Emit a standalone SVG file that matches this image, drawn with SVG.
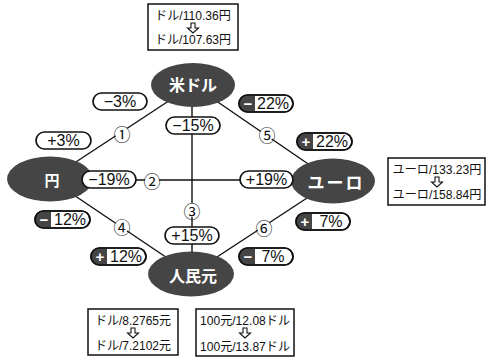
<svg xmlns="http://www.w3.org/2000/svg" width="487" height="361" viewBox="0 0 487 361">
<style>
.bg{fill:#ffffff}
.conn{stroke:#111;stroke-width:1.4;fill:none}
.node{fill:#454545}
.ntext{fill:#fff;font-family:"Noto Sans CJK JP",sans-serif;font-weight:bold;text-anchor:middle;dominant-baseline:central}
.pill{fill:#fff;stroke:#111;stroke-width:1.7}
.pout{fill:none;stroke:#111;stroke-width:1.7}
.dark{fill:#454545}
.ptext{fill:#111;font-family:"Liberation Sans",Arial,sans-serif;font-size:16px;text-anchor:middle;dominant-baseline:central}
.sign{fill:#fff;font-family:"Liberation Sans",Arial,sans-serif;font-size:15px;font-weight:bold;text-anchor:middle;dominant-baseline:central}
.box{fill:#fff;stroke:#111;stroke-width:1.5}
.btext{fill:#111;font-family:"Liberation Sans","Noto Sans CJK JP",sans-serif;font-size:12.5px;text-anchor:middle;dominant-baseline:central}
.arrow{fill:#fff;stroke:#111;stroke-width:1.1;stroke-linejoin:miter}
.numbg{fill:#fff}
.num{fill:#111;font-family:"Noto Sans CJK JP",sans-serif;font-size:17px;text-anchor:middle;dominant-baseline:central}
</style>
<rect class="bg" x="0" y="0" width="487" height="361"/>

<g id="connectors">
  <line class="conn" x1="193" y1="85" x2="50" y2="179"/>
  <line class="conn" x1="193" y1="85" x2="333" y2="181"/>
  <line class="conn" x1="50" y1="179" x2="191" y2="274"/>
  <line class="conn" x1="333" y1="181" x2="191" y2="274"/>
  <line class="conn" x1="50" y1="180" x2="333" y2="180"/>
  <line class="conn" x1="192" y1="85" x2="192" y2="274"/>
</g>

<g id="node-usd">
  <ellipse class="node" cx="193" cy="85" rx="42" ry="22"/>
  <text class="ntext" x="193" y="84" font-size="16">米ドル</text>
</g>
<g id="node-jpy">
  <ellipse class="node" cx="50" cy="179" rx="43" ry="22.5"/>
  <text class="ntext" x="52" y="179" font-size="15">円</text>
</g>
<g id="node-eur">
  <ellipse class="node" cx="333" cy="181" rx="42" ry="22.5"/>
  <text class="ntext" x="336" y="181" font-size="17" letter-spacing="2">ユーロ</text>
</g>
<g id="node-cny">
  <ellipse class="node" cx="191" cy="274" rx="43" ry="22.5"/>
  <text class="ntext" x="193" y="275" font-size="16">人民元</text>
</g>

<g id="edge-numbers">
  <circle class="numbg" cx="122" cy="133" r="7"/><text class="num" x="122" y="133">①</text>
  <circle class="numbg" cx="152" cy="180" r="7"/><text class="num" x="152" y="180">②</text>
  <circle class="numbg" cx="192" cy="210" r="7"/><text class="num" x="192" y="210">③</text>
  <circle class="numbg" cx="122" cy="226" r="7"/><text class="num" x="122" y="226">④</text>
  <circle class="numbg" cx="267" cy="134" r="7"/><text class="num" x="267" y="134">⑤</text>
  <circle class="numbg" cx="264" cy="227" r="7"/><text class="num" x="264" y="227">⑥</text>
</g>

<g id="labels">
  <rect class="pill" x="93" y="93" width="54" height="17" rx="8.5"/><text class="ptext" x="120" y="101.5">−3%</text>
  <rect class="pill" x="166" y="117" width="54" height="17" rx="8.5"/><text class="ptext" x="193" y="125.5">−15%</text>
  <rect class="pill" x="36" y="132" width="55" height="17" rx="8.5"/><text class="ptext" x="63.5" y="140.5">+3%</text>
  <rect class="pill" x="82" y="171" width="54" height="17" rx="8.5"/><text class="ptext" x="109" y="179.5">−19%</text>
  <rect class="pill" x="240" y="171" width="53" height="17" rx="8.5"/><text class="ptext" x="266.5" y="179.5">+19%</text>
  <rect class="pill" x="165" y="227" width="54" height="17" rx="8.5"/><text class="ptext" x="192" y="235.5">+15%</text>

  <rect class="pill" x="239" y="95" width="54" height="17" rx="8.5"/>
  <path class="dark" d="M255,95 H247.5 A8.5,8.5 0 0 0 247.5,112 H255 Z"/>
  <rect class="pout" x="239" y="95" width="54" height="17" rx="8.5"/>
  <text class="sign" x="248" y="103.5">−</text><text class="ptext" x="273" y="103.5">22%</text>

  <rect class="pill" x="297" y="133" width="55" height="17" rx="8.5"/>
  <path class="dark" d="M313,133 H305.5 A8.5,8.5 0 0 0 305.5,150 H313 Z"/>
  <rect class="pout" x="297" y="133" width="55" height="17" rx="8.5"/>
  <text class="sign" x="306" y="141.5">+</text><text class="ptext" x="332" y="141.5">22%</text>

  <rect class="pill" x="35" y="211" width="55" height="17" rx="8.5"/>
  <path class="dark" d="M51,211 H43.5 A8.5,8.5 0 0 0 43.5,228 H51 Z"/>
  <rect class="pout" x="35" y="211" width="55" height="17" rx="8.5"/>
  <text class="sign" x="44" y="219.5">−</text><text class="ptext" x="70" y="219.5">12%</text>

  <rect class="pill" x="296" y="213" width="54" height="17" rx="8.5"/>
  <path class="dark" d="M312,213 H304.5 A8.5,8.5 0 0 0 304.5,230 H312 Z"/>
  <rect class="pout" x="296" y="213" width="54" height="17" rx="8.5"/>
  <text class="sign" x="305" y="221.5">+</text><text class="ptext" x="331" y="221.5">7%</text>

  <rect class="pill" x="91" y="248" width="55" height="17" rx="8.5"/>
  <path class="dark" d="M107,248 H99.5 A8.5,8.5 0 0 0 99.5,265 H107 Z"/>
  <rect class="pout" x="91" y="248" width="55" height="17" rx="8.5"/>
  <text class="sign" x="100" y="256.5">+</text><text class="ptext" x="126" y="256.5">12%</text>

  <rect class="pill" x="239" y="248" width="54" height="17" rx="8.5"/>
  <path class="dark" d="M255,248 H247.5 A8.5,8.5 0 0 0 247.5,265 H255 Z"/>
  <rect class="pout" x="239" y="248" width="54" height="17" rx="8.5"/>
  <text class="sign" x="248" y="256.5">−</text><text class="ptext" x="273" y="256.5">7%</text>
</g>

<g id="box-usd">
  <rect class="box" x="148" y="4" width="90" height="46"/>
  <text class="btext" x="193" y="16" textLength="76" lengthAdjust="spacingAndGlyphs">ドル/110.36円</text>
  <polygon class="arrow" points="191,23 195,23 195,28 198.5,28 193,33 187.5,28 191,28"/>
  <text class="btext" x="193" y="40" textLength="76" lengthAdjust="spacingAndGlyphs">ドル/107.63円</text>
</g>
<g id="box-eur">
  <rect class="box" x="388" y="158" width="97" height="47"/>
  <text class="btext" x="437" y="170" textLength="89" lengthAdjust="spacingAndGlyphs">ユーロ/133.23円</text>
  <polygon class="arrow" points="435,177 439,177 439,182 442.5,182 437,187 431.5,182 435,182"/>
  <text class="btext" x="437" y="195" textLength="89" lengthAdjust="spacingAndGlyphs">ユーロ/158.84円</text>
</g>
<g id="box-cny">
  <rect class="box" x="88" y="309" width="90" height="46"/>
  <text class="btext" x="133" y="321" textLength="76" lengthAdjust="spacingAndGlyphs">ドル/8.2765元</text>
  <polygon class="arrow" points="131,328 135,328 135,333 138.5,333 133,338 127.5,333 131,333"/>
  <text class="btext" x="133" y="346" textLength="76" lengthAdjust="spacingAndGlyphs">ドル/7.2102元</text>
</g>
<g id="box-cny-usd">
  <rect class="box" x="196" y="309" width="98" height="47"/>
  <text class="btext" x="245" y="321" textLength="90" lengthAdjust="spacingAndGlyphs">100元/12.08ドル</text>
  <polygon class="arrow" points="243,328 247,328 247,333 250.5,333 245,338 239.5,333 243,333"/>
  <text class="btext" x="245" y="347" textLength="90" lengthAdjust="spacingAndGlyphs">100元/13.87ドル</text>
</g>
</svg>
